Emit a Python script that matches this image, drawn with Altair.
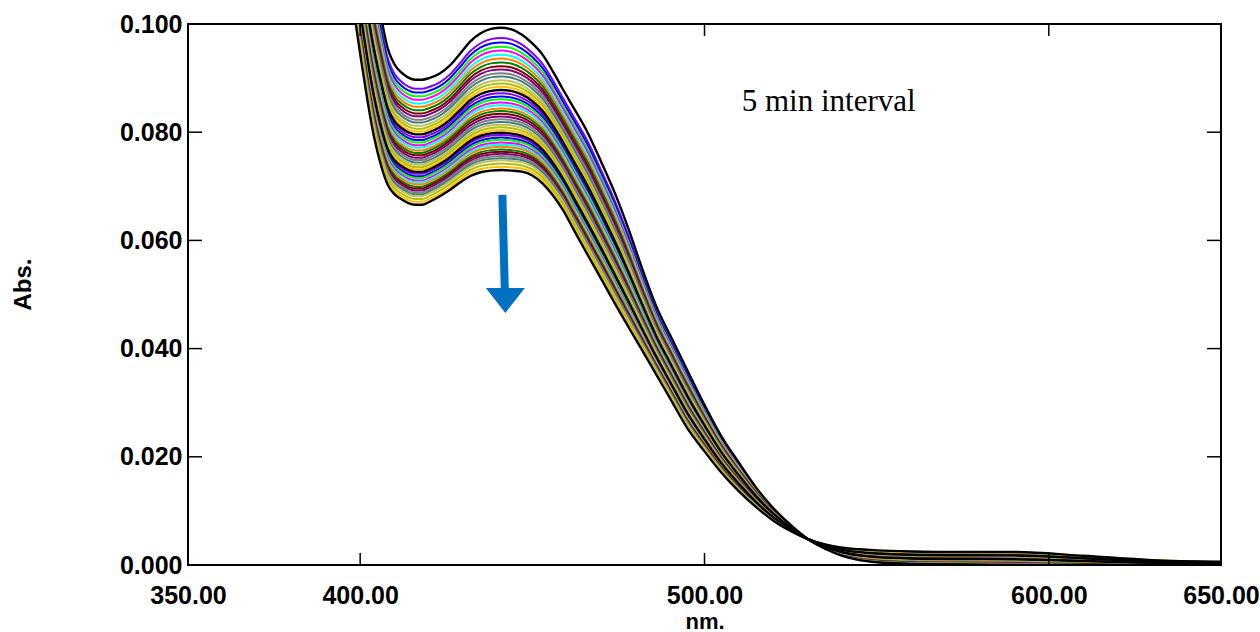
import altair as alt
import pandas as pd

# wavelength grid (nm)
wavelengths = [396, 400, 404, 406, 408, 410, 412, 414, 416, 418,
               420, 423, 426, 429, 432, 435, 438, 441, 444, 447,
               450, 453, 456, 459, 462, 466, 470, 474, 478, 482,
               486, 490, 495, 500, 505, 510, 515, 520, 525, 530,
               535, 540, 545, 550, 560, 575, 590, 610, 630, 650]

# first scan (highest curve)
first_scan = [0.150, 0.125, 0.108, 0.1015, 0.0955, 0.0925, 0.0910, 0.0901, 0.0897, 0.0897,
              0.0900, 0.0908, 0.0923, 0.0945, 0.0968, 0.0983, 0.0991, 0.0993, 0.0990, 0.0980,
              0.0964, 0.0943, 0.0912, 0.0878, 0.0845, 0.0800, 0.0745, 0.0687, 0.0620, 0.0546,
              0.0478, 0.0425, 0.0360, 0.0296, 0.0237, 0.0189, 0.0143, 0.0105, 0.0074, 0.0048,
              0.0030, 0.0017, 0.0009, 0.0005, 0.0002, 0.0001, 0.0000, 0.0000, 0.0000, 0.0000]

# last scan (lowest curve)
last_scan = [0.112, 0.0945, 0.0792, 0.0740, 0.0703, 0.0685, 0.0676, 0.0669, 0.0666, 0.0666,
             0.0671, 0.0681, 0.0693, 0.0707, 0.0719, 0.0726, 0.0729, 0.0730, 0.0729, 0.0727,
             0.0720, 0.0705, 0.0683, 0.0655, 0.0620, 0.0574, 0.0529, 0.0483, 0.0439, 0.0396,
             0.0352, 0.0308, 0.0253, 0.0210, 0.0170, 0.0136, 0.0107, 0.0082, 0.0063, 0.0048,
             0.0038, 0.0032, 0.0029, 0.0027, 0.0025, 0.0024, 0.0024, 0.0017, 0.0009, 0.0006]

# absorbance at the 441 nm maximum for each scan (5 min interval)
peak_abs = [0.0993, 0.0974, 0.0966, 0.0958, 0.0951, 0.0943, 0.0936, 0.0929, 0.0922, 0.0916,
            0.0909, 0.0903, 0.0896, 0.0890, 0.0884, 0.0878, 0.0872, 0.0866, 0.0861, 0.0855,
            0.0850, 0.0844, 0.0839, 0.0834, 0.0829, 0.0824, 0.0819, 0.0814, 0.0809, 0.0804,
            0.0799, 0.0795, 0.0790, 0.0786, 0.0781, 0.0777, 0.0773, 0.0768, 0.0764, 0.0760,
            0.0756, 0.0752, 0.0748, 0.0742, 0.0736, 0.0730]

cycle_colors = ["#000000", "#8000ff", "#0000ff", "#00ff00", "#ff00ff", "#00ffff",
                "#ff8000", "#008000", "#800000", "#800080", "#808080", "#408080",
                "#c0c060", "#b0c000", "#ffc000"]

x_tick_labels = [350, 400, 500, 600, 650]
y_tick_labels = [0.0, 0.02, 0.04, 0.06, 0.08, 0.10]
inner_x_ticks = [400, 500, 600]
inner_y_ticks = [0.02, 0.04, 0.06, 0.08]

annotation = ["5 min interval"]
annotation_pos = [510.8, 0.0839]
arrow_top = [441.3, 0.0684]
arrow_bottom = [442.0, 0.0508]
arrow_head = [442.16, 0.0489]

W, H = 1033, 541

p_top = peak_abs[0]
p_bot = peak_abs[-1]
rows = []
for i, p in enumerate(peak_abs):
    f = (p - p_bot) / (p_top - p_bot)
    for w, a, b in zip(wavelengths, first_scan, last_scan):
        rows.append({"scan": i, "nm": w, "abs": b + f * (a - b),
                     "black": cycle_colors[i % len(cycle_colors)] == "#000000"})
df = pd.DataFrame(rows)
scan_ids = list(range(len(peak_abs)))
scan_colors = [cycle_colors[i % len(cycle_colors)] for i in scan_ids]

xs = alt.Scale(domain=[350, 650], nice=False, zero=False)
ys = alt.Scale(domain=[0, 0.1], nice=False, zero=False)

x_enc = alt.X("nm:Q", scale=xs, axis=alt.Axis(
    values=x_tick_labels, format=".2f", title="nm.", ticks=False, domain=False, grid=False,
    labelFlush=False, labelOverlap=False,
    labelFont="Liberation Sans", labelFontWeight="bold", labelFontSize=25, labelColor="black",
    labelPadding=18, titleFont="Liberation Sans", titleFontWeight="bold", titleFontSize=22,
    titleColor="black", titleBaseline="alphabetic", titleY=63))
y_enc = alt.Y("abs:Q", scale=ys, axis=alt.Axis(
    values=y_tick_labels, format=".3f", title="Abs.", ticks=False, domain=False, grid=False,
    labelFlush=False, labelOverlap=False,
    labelFont="Liberation Sans", labelFontWeight="bold", labelFontSize=25, labelColor="black",
    labelPadding=6, titleFont="Liberation Sans", titleFontWeight="bold", titleFontSize=24,
    titleColor="black", titleAngle=270, titleAlign="center", titleBaseline="middle",
    titleX=-165, titleY=260))

color_enc = alt.Color("scan:N", scale=alt.Scale(domain=scan_ids, range=scan_colors), legend=None)

base = alt.Chart(df)
colored = base.transform_filter("!datum.black").mark_line(
    clip=True, strokeWidth=2.0, interpolate="monotone").encode(
    x=x_enc, y=y_enc, color=color_enc, detail="scan:N")
blacks = base.transform_filter("datum.black").mark_line(
    clip=True, strokeWidth=2.4, interpolate="monotone").encode(
    x="nm:Q", y="abs:Q", color=color_enc, detail="scan:N")

xt = pd.DataFrame({"nm": inner_x_ticks})
yt = pd.DataFrame({"abs": inner_y_ticks})
tick_bottom = alt.Chart(xt).mark_rule(color="black", strokeWidth=1.5).encode(
    x=alt.X("nm:Q", scale=xs), y=alt.value(H), y2=alt.value(H - 12))
tick_top = alt.Chart(xt).mark_rule(color="black", strokeWidth=1.5).encode(
    x=alt.X("nm:Q", scale=xs), y=alt.value(0), y2=alt.value(12))
tick_left = alt.Chart(yt).mark_rule(color="black", strokeWidth=1.5).encode(
    y=alt.Y("abs:Q", scale=ys), x=alt.value(0), x2=alt.value(14))
tick_right = alt.Chart(yt).mark_rule(color="black", strokeWidth=1.5).encode(
    y=alt.Y("abs:Q", scale=ys), x=alt.value(W - 14), x2=alt.value(W))

ann = alt.Chart(pd.DataFrame({"nm": [annotation_pos[0]], "abs": [annotation_pos[1]],
                              "t": annotation})).mark_text(
    font="Liberation Serif", fontSize=31, align="left", baseline="alphabetic",
    color="black").encode(x=alt.X("nm:Q", scale=xs), y=alt.Y("abs:Q", scale=ys), text="t:N")

shaft = alt.Chart(pd.DataFrame({"nm": [arrow_top[0]], "abs": [arrow_top[1]],
                                "nm2": [arrow_bottom[0]], "abs2": [arrow_bottom[1]]})).mark_rule(
    color="#0070c0", strokeWidth=8).encode(
    x=alt.X("nm:Q", scale=xs), y=alt.Y("abs:Q", scale=ys), x2="nm2:Q", y2="abs2:Q")
head = alt.Chart(pd.DataFrame({"nm": [arrow_head[0]], "abs": [arrow_head[1]]})).mark_point(
    shape="M-1,-0.64L1,-0.64L0,0.64Z", size=1521, filled=True, color="#0070c0",
    opacity=1, strokeWidth=0).encode(x=alt.X("nm:Q", scale=xs), y=alt.Y("abs:Q", scale=ys))

chart = alt.layer(colored, blacks, tick_bottom, tick_top, tick_left, tick_right,
                  ann, shaft, head).properties(
    width=W, height=H,
    autosize=alt.AutoSizeParams(type="none"),
    padding={"left": 188, "top": 24, "right": 39, "bottom": 67},
    background="white",
).configure_view(stroke="black", strokeWidth=2)

chart.save("out.html", embed_options={"renderer": "svg", "actions": False})
